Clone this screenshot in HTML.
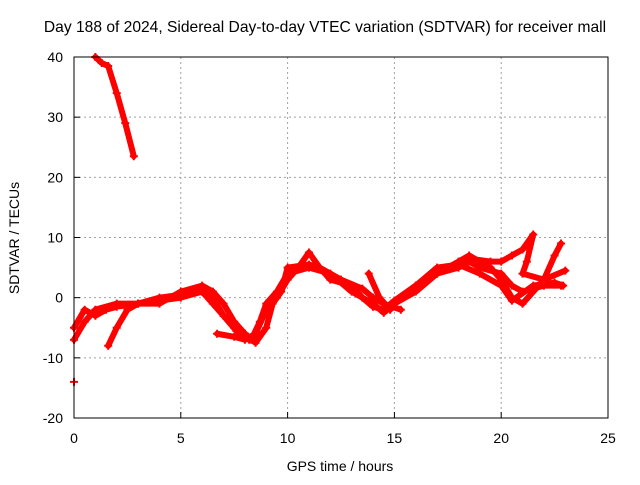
<!DOCTYPE html>
<html><head><meta charset="utf-8"><style>
body{margin:0;background:#fff;}
svg text{font-family:"Liberation Sans",sans-serif;font-size:14px;fill:#000;}
</style></head><body>
<svg id="chart" width="640" height="480" viewBox="0 0 640 480" xmlns="http://www.w3.org/2000/svg">
<rect width="640" height="480" fill="#fff"/>
<g id="grid"></g>
<g id="series"></g>
<rect x="74" y="57" width="534" height="361" fill="none" stroke="#000" stroke-width="1"/>
<g id="ticks"></g>
<text x="325" y="32" text-anchor="middle" style="font-size:15.6px">Day 188 of 2024, Sidereal Day-to-day VTEC variation (SDTVAR) for receiver mall</text>
<text x="340" y="471" text-anchor="middle">GPS time / hours</text>
<text x="0" y="0" text-anchor="middle" transform="translate(19,238) rotate(-90)">SDTVAR / TECUs</text>
</svg>
<script>
const xTicks=[0,5,10,15,20,25];
const yTicks=[-20,-10,0,10,20,30,40];
const s1=[[1.0,40],[1.3,39],[1.6,38.5],[2.0,34],[2.4,29],[2.8,23.5]];
const s2=[[0,-5],[0.5,-2],[1,-3],[1.5,-2],[2,-1.5],[3,-1],[4,-0.5],[5,0],[6,1],[6.5,0],[7,-3],[7.5,-5],[8,-6],[8.3,-7],[8.7,-4],[9,-1],[9.5,1],[10,4],[11,5],[12,4],[13,1],[14,-1],[14.5,-2.5],[15,-1],[16,1],[17,4],[18,5],[18.5,6],[19,5],[20,4],[20.5,2],[21,1],[22,2],[22.8,2]];
const s3=[[0,-7],[0.5,-4],[1,-2],[2,-1],[3,-1],[4,-1],[5,1],[6,2],[6.5,1],[7,-1],[7.5,-4],[8,-6],[8.5,-7.5],[9,-5],[9.3,-1],[9.7,1],[10,5],[11,5.5],[11.5,5],[12,3],[13,2],[13.5,0],[14,-1.5],[14.5,-2],[15,-0.5],[16,2],[17,4],[18,6],[18.5,7],[19,6],[19.5,5],[20,3],[20.5,0],[21,-1],[22,3],[23,4.5]];
const s4=[[1.6,-8],[2,-5],[2.5,-2],[3,-1],[4,0],[5,0.5],[6,1],[6.5,-1],[7,-3],[7.6,-5.5],[8.2,-7],[8.6,-6]];
const s5=[[6.7,-6],[7.5,-6.5],[8,-7],[8.5,-6],[9,-2],[9.5,0],[10,3],[10.5,5],[11,7.5],[11.5,5],[12.5,3],[13.5,1.5],[14,0],[14.5,-1],[15.3,-2]];
const s6=[[13.8,4],[14.3,0],[14.8,-2]];
const s7=[[17.5,5],[18.5,6.5],[19.5,6],[20,6],[20.5,7],[21,8],[21.5,10.5],[21.2,6],[21,4],[22,3],[22.5,7],[22.8,9]];
const s8=[[15,-1],[16,2],[17,5],[18,5.5],[19,4],[20,2],[20.5,-0.5],[21.5,2],[22.5,2.5],[22.9,2]];
const s9=[[0,-14]];
const allSeries=[s1,s2,s3,s4,s5,s6,s7,s8,s9];
const X=v=>74+v*534/25, Y=v=>418-(v+20)*361/60;
const NS="http://www.w3.org/2000/svg";
const grid=document.getElementById('grid'),ticks=document.getElementById('ticks'),ser=document.getElementById('series');
function mk(t,a,p){const e=document.createElementNS(NS,t);for(const k in a)e.setAttribute(k,a[k]);p.appendChild(e);return e;}
xTicks.forEach(t=>{
 if(t>0&&t<25){const g=mk('line',{x1:X(t),x2:X(t),y1:57,y2:418,stroke:'#a0a0a0','stroke-dasharray':'2,3'},grid);
 
 }
 const l=mk('line',{x1:X(t),x2:X(t),y1:418,y2:412,stroke:'#000'},ticks);
 
 
 const tx=mk('text',{x:X(t),y:443,'text-anchor':'middle'},ticks);tx.textContent=t;
 
 
});
yTicks.forEach(t=>{
 if(t>-20&&t<40){const g=mk('line',{x1:74,x2:608,y1:Y(t),y2:Y(t),stroke:'#a0a0a0','stroke-dasharray':'2,3'},grid);
 
 }
 const l=mk('line',{x1:74,x2:80,y1:Y(t),y2:Y(t),stroke:'#000'},ticks);
 
 
 const tx=mk('text',{x:63,y:Y(t)+5,'text-anchor':'end'},ticks);tx.textContent=t;
 
 
});
allSeries.forEach((s,i)=>{
 const g=mk('g',{},ser);
 
 
 if(s.length>1){const pl=mk('polyline',{points:s.map(p=>X(p[0])+','+Y(p[1])).join(' '),fill:'none',stroke:'#f00','stroke-width':6,'stroke-linejoin':'round','stroke-linecap':'round'},g);
 
 }
 s.forEach(p=>{const c=mk('path',{d:`M${X(p[0])-4},${Y(p[1])}h8M${X(p[0])},${Y(p[1])-4}v8`,stroke:'#f00','stroke-width':2},g);
 
 });
});
</script>
</body></html>
